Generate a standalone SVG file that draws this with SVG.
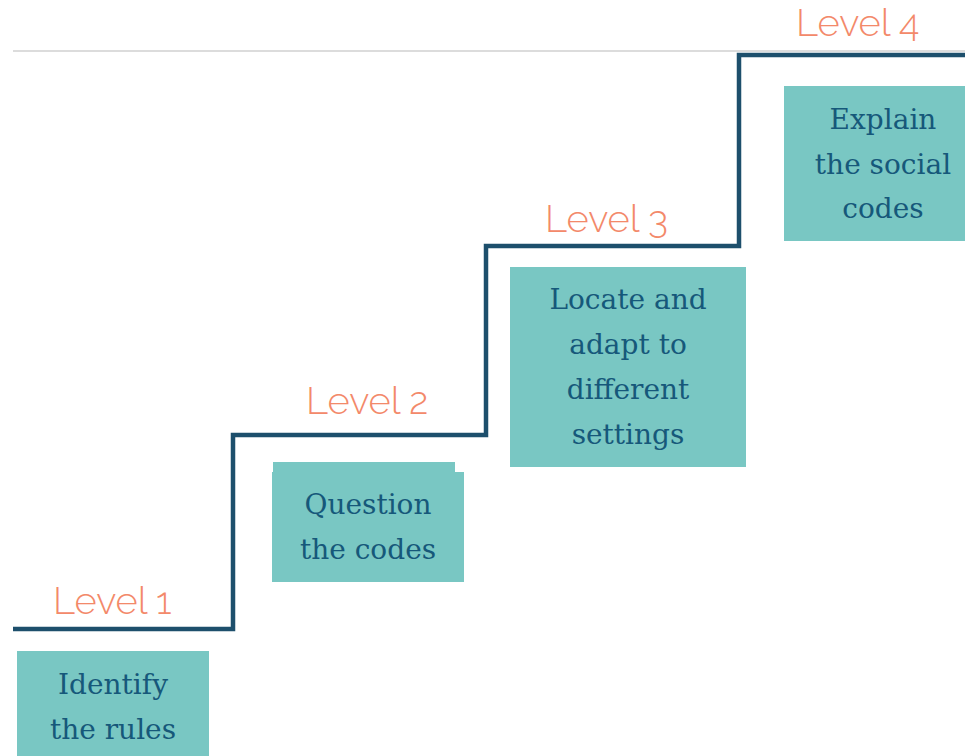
<svg xmlns="http://www.w3.org/2000/svg" width="965" height="756" viewBox="0 0 965 756">
<style>
.box{fill:#79c7c3}
.t{font-family:"DejaVu Serif","Liberation Serif",serif;font-size:28px;fill:#16587a;text-anchor:middle}
.lv{font-family:Raleway,Lato,"Open Sans",sans-serif;font-weight:300;font-size:38px;fill:#f3896a}
.stair{fill:none;stroke:#1d4f6c;stroke-width:4.5;stroke-linejoin:miter}
</style>
<rect width="965" height="756" fill="#ffffff"/>
<line x1="13" y1="51" x2="965" y2="51" stroke="#dcdcdc" stroke-width="2"/>
<g id="connectors">
<path class="stair" d="M13,629 H233 V435 H486 V246 H739 V55 H965"/>
</g>
<g id="level1">
<text class="lv" x="53" y="614">Level 1</text>
<rect class="box" x="17" y="651" width="192" height="105"/>
<text class="t" x="113" y="694">Identify</text>
<text class="t" x="113" y="739">the rules</text>
</g>
<g id="level2">
<text class="lv" x="306" y="414">Level 2</text>
<rect class="box" x="273" y="462" width="182" height="12"/>
<rect class="box" x="272" y="472" width="192" height="110"/>
<text class="t" x="368" y="514">Question</text>
<text class="t" x="368" y="559">the codes</text>
</g>
<g id="level3">
<text class="lv" x="545" y="232">Level 3</text>
<rect class="box" x="510" y="267" width="236" height="200"/>
<text class="t" x="628" y="309">Locate and</text>
<text class="t" x="628" y="354">adapt to</text>
<text class="t" x="628" y="399">different</text>
<text class="t" x="628" y="444">settings</text>
</g>
<g id="level4">
<text class="lv" x="796" y="36">Level 4</text>
<rect class="box" x="784" y="86" width="181" height="155"/>
<text class="t" x="883" y="129">Explain</text>
<text class="t" x="883" y="174">the social</text>
<text class="t" x="883" y="218">codes</text>
</g>
</svg>
